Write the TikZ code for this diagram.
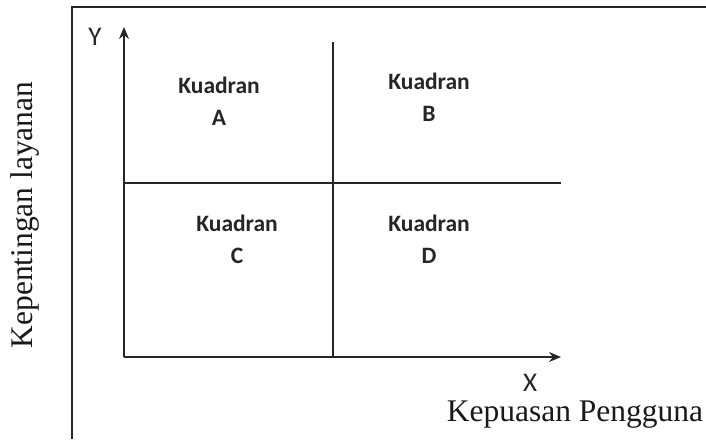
\documentclass[tikz,border=0pt]{standalone}
\usepackage{fontspec}
\setmainfont{Liberation Serif}
\newfontfamily\kuadfont{Carlito}
\usetikzlibrary{arrows.meta}

\begin{document}
\begin{tikzpicture}[x=1pt,y=-1pt,
                garis/.style={
                    line width=1.5pt,
                    draw=black!85
                },
                panah/.style={
                    garis,
                    -{Stealth[length=12pt,width=10pt]}
                },
                kuadran/.style={
                    align=center,
                    text=black!85,
                    font=\kuadfont\bfseries\fontsize{23.5}{32}\selectfont
                },
                sumbu/.style={
                    text=black!85,
                    font=\kuadfont\fontsize{27}{30}\selectfont
                },
                judul/.style={
                    text=black!90,
                    font=\fontsize{31.5}{36}\selectfont
                }
            ]
    \useasboundingbox (0,0) rectangle (706,439);

    % bingkai
    \draw[garis] (72,439) -- (72,7) -- (706,7);

    % sumbu dan garis kuadran
    \coordinate (origin) at (124,357);
    \coordinate (ytop)   at (124,27);
    \coordinate (xend)   at (561,357);
    \coordinate (vtop)   at (333,42);
    \coordinate (vbot)   at (333,357);
    \coordinate (hleft)  at (124,183);
    \coordinate (hright) at (561,183);

    \draw[panah] (origin) -- (ytop);
    \draw[panah] (origin) -- (xend);
    \draw[garis] (vtop) -- (vbot);
    \draw[garis] (hleft) -- (hright);

    \node[kuadran] (kuadA) at (219,101)   {Kuadran\\A};
    \node[kuadran] (kuadB) at (429,97.5)  {Kuadran\\B};
    \node[kuadran] (kuadC) at (237,239)   {Kuadran\\C};
    \node[kuadran] (kuadD) at (429,239)   {Kuadran\\D};

    \node[sumbu] (labelY) at (95,37)  {Y};
    \node[sumbu] (labelX) at (530,383) {X};

    \node[judul] (judulX) at (575,415) {Kepuasan Pengguna};
    \node[judul, rotate=90] (judulY) at (25,215) {Kepentingan layanan};
\end{tikzpicture}
\end{document}
